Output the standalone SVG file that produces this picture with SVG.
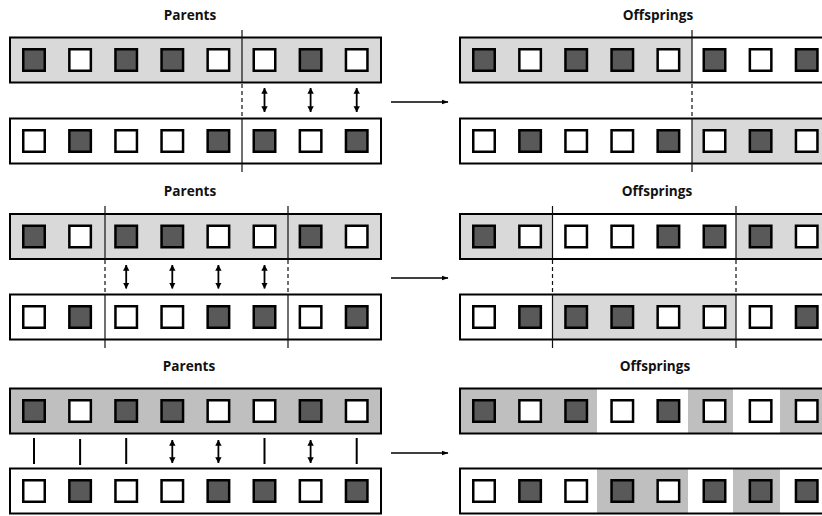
<svg xmlns="http://www.w3.org/2000/svg" xmlns:xlink="http://www.w3.org/1999/xlink" width="822" height="516" viewBox="0 0 822 516">
<style>
.bg{fill:#fff}
.g1{fill:#d9d9d9}
.g3{fill:#bfbfbf}
.ol{fill:none;stroke:#000;stroke-width:2}
.d{fill:#595959;stroke:#000;stroke-width:2.5}
.w{fill:#fff;stroke:#000;stroke-width:2.5}
.cut{stroke:#111;stroke-width:1.2;fill:none}
.dash{stroke:#111;stroke-width:1.2;stroke-dasharray:4 3;fill:none}
.sw{stroke:#000;stroke-width:1.8;fill:none;marker-start:url(#ah);marker-end:url(#ah)}
.keep{stroke:#000;stroke-width:2;fill:none}
.main{stroke:#000;stroke-width:1.6;fill:none;marker-end:url(#am)}
.t{font-family:"Open Sans","Liberation Sans",sans-serif;font-weight:bold;font-size:13.6px;fill:#111;text-anchor:middle}
</style>
<defs>
<rect id="D" width="21.5" height="21.5" class="d"/>
<rect id="W" width="21.5" height="21.5" class="w"/>
<marker id="ah" viewBox="0 0 6 7" refX="5.8" refY="3.5" markerWidth="6" markerHeight="7" markerUnits="userSpaceOnUse" orient="auto-start-reverse"><path d="M0,0.3 L6,3.5 L0,6.7 z" fill="#000"/></marker>
<marker id="am" viewBox="0 0 7 6" refX="6.5" refY="3" markerWidth="7" markerHeight="6" markerUnits="userSpaceOnUse" orient="auto"><path d="M0,0.5 L7,3 L0,5.5 z" fill="#000"/></marker>
</defs>

<!-- titles -->
<text class="t" x="190" y="20">Parents</text>
<text class="t" x="658" y="20">Offsprings</text>
<text class="t" x="190" y="196">Parents</text>
<text class="t" x="657" y="196">Offsprings</text>
<text class="t" x="189" y="371">Parents</text>
<text class="t" x="655" y="371">Offsprings</text>

<!-- ROW 1 -->
<g id="r1-parent1">
<rect x="10" y="37.5" width="371" height="45" class="g1"/>
<use href="#D" x="23.25" y="49.25"/><use href="#W" x="69.35" y="49.25"/><use href="#D" x="115.45" y="49.25"/><use href="#D" x="161.55" y="49.25"/><use href="#W" x="207.65" y="49.25"/><use href="#W" x="253.75" y="49.25"/><use href="#D" x="299.85" y="49.25"/><use href="#W" x="345.95" y="49.25"/>
<rect x="10" y="37.5" width="371" height="45" class="ol"/>
</g>
<g id="r1-parent2">
<rect x="10" y="118.5" width="371" height="45" class="bg"/>
<use href="#W" x="23.25" y="130.25"/><use href="#D" x="69.35" y="130.25"/><use href="#W" x="115.45" y="130.25"/><use href="#W" x="161.55" y="130.25"/><use href="#D" x="207.65" y="130.25"/><use href="#D" x="253.75" y="130.25"/><use href="#W" x="299.85" y="130.25"/><use href="#D" x="345.95" y="130.25"/>
<rect x="10" y="118.5" width="371" height="45" class="ol"/>
</g>
<g id="r1-offspring1">
<rect x="460" y="37.5" width="371" height="45" class="bg"/>
<rect x="460" y="37.5" width="232" height="45" class="g1"/>
<use href="#D" x="473.25" y="49.25"/><use href="#W" x="519.35" y="49.25"/><use href="#D" x="565.45" y="49.25"/><use href="#D" x="611.55" y="49.25"/><use href="#W" x="657.65" y="49.25"/><use href="#D" x="703.75" y="49.25"/><use href="#W" x="749.85" y="49.25"/><use href="#D" x="795.95" y="49.25"/>
<rect x="460" y="37.5" width="371" height="45" class="ol"/>
</g>
<g id="r1-offspring2">
<rect x="460" y="118.5" width="371" height="45" class="bg"/>
<rect x="692" y="118.5" width="139" height="45" class="g1"/>
<use href="#W" x="473.25" y="130.25"/><use href="#D" x="519.35" y="130.25"/><use href="#W" x="565.45" y="130.25"/><use href="#W" x="611.55" y="130.25"/><use href="#D" x="657.65" y="130.25"/><use href="#W" x="703.75" y="130.25"/><use href="#D" x="749.85" y="130.25"/><use href="#W" x="795.95" y="130.25"/>
<rect x="460" y="118.5" width="371" height="45" class="ol"/>
</g>

<!-- ROW 2 -->
<g id="r2-parent1">
<rect x="10" y="214" width="371" height="45" class="g1"/>
<use href="#D" x="23.25" y="225.75"/><use href="#W" x="69.35" y="225.75"/><use href="#D" x="115.45" y="225.75"/><use href="#D" x="161.55" y="225.75"/><use href="#W" x="207.65" y="225.75"/><use href="#W" x="253.75" y="225.75"/><use href="#D" x="299.85" y="225.75"/><use href="#W" x="345.95" y="225.75"/>
<rect x="10" y="214" width="371" height="45" class="ol"/>
</g>
<g id="r2-parent2">
<rect x="10" y="294.5" width="371" height="45" class="bg"/>
<use href="#W" x="23.25" y="306.25"/><use href="#D" x="69.35" y="306.25"/><use href="#W" x="115.45" y="306.25"/><use href="#W" x="161.55" y="306.25"/><use href="#D" x="207.65" y="306.25"/><use href="#D" x="253.75" y="306.25"/><use href="#W" x="299.85" y="306.25"/><use href="#D" x="345.95" y="306.25"/>
<rect x="10" y="294.5" width="371" height="45" class="ol"/>
</g>
<g id="r2-offspring1">
<rect x="460" y="214" width="371" height="45" class="bg"/>
<rect x="460" y="214" width="92.5" height="45" class="g1"/>
<rect x="736" y="214" width="95" height="45" class="g1"/>
<use href="#D" x="473.25" y="225.75"/><use href="#W" x="519.35" y="225.75"/><use href="#W" x="565.45" y="225.75"/><use href="#W" x="611.55" y="225.75"/><use href="#D" x="657.65" y="225.75"/><use href="#D" x="703.75" y="225.75"/><use href="#D" x="749.85" y="225.75"/><use href="#W" x="795.95" y="225.75"/>
<rect x="460" y="214" width="371" height="45" class="ol"/>
</g>
<g id="r2-offspring2">
<rect x="460" y="294.5" width="371" height="45" class="bg"/>
<rect x="552.5" y="294.5" width="183.5" height="45" class="g1"/>
<use href="#W" x="473.25" y="306.25"/><use href="#D" x="519.35" y="306.25"/><use href="#D" x="565.45" y="306.25"/><use href="#D" x="611.55" y="306.25"/><use href="#W" x="657.65" y="306.25"/><use href="#W" x="703.75" y="306.25"/><use href="#W" x="749.85" y="306.25"/><use href="#D" x="795.95" y="306.25"/>
<rect x="460" y="294.5" width="371" height="45" class="ol"/>
</g>

<!-- ROW 3 -->
<g id="r3-parent1">
<rect x="10" y="388.5" width="371" height="45" class="g3"/>
<use href="#D" x="23.25" y="400.25"/><use href="#W" x="69.35" y="400.25"/><use href="#D" x="115.45" y="400.25"/><use href="#D" x="161.55" y="400.25"/><use href="#W" x="207.65" y="400.25"/><use href="#W" x="253.75" y="400.25"/><use href="#D" x="299.85" y="400.25"/><use href="#W" x="345.95" y="400.25"/>
<rect x="10" y="388.5" width="371" height="45" class="ol"/>
</g>
<g id="r3-parent2">
<rect x="10" y="468.5" width="371" height="45" class="bg"/>
<use href="#W" x="23.25" y="480.25"/><use href="#D" x="69.35" y="480.25"/><use href="#W" x="115.45" y="480.25"/><use href="#W" x="161.55" y="480.25"/><use href="#D" x="207.65" y="480.25"/><use href="#D" x="253.75" y="480.25"/><use href="#W" x="299.85" y="480.25"/><use href="#D" x="345.95" y="480.25"/>
<rect x="10" y="468.5" width="371" height="45" class="ol"/>
</g>
<g id="r3-offspring1">
<rect x="460" y="388.5" width="371" height="45" class="bg"/>
<rect x="460" y="388.5" width="137" height="45" class="g3"/>
<rect x="688" y="388.5" width="45" height="45" class="g3"/>
<rect x="780" y="388.5" width="51" height="45" class="g3"/>
<use href="#D" x="473.25" y="400.25"/><use href="#W" x="519.35" y="400.25"/><use href="#D" x="565.45" y="400.25"/><use href="#W" x="611.55" y="400.25"/><use href="#D" x="657.65" y="400.25"/><use href="#W" x="703.75" y="400.25"/><use href="#W" x="749.85" y="400.25"/><use href="#W" x="795.95" y="400.25"/>
<rect x="460" y="388.5" width="371" height="45" class="ol"/>
</g>
<g id="r3-offspring2">
<rect x="460" y="468.5" width="371" height="45" class="bg"/>
<rect x="597" y="468.5" width="91" height="45" class="g3"/>
<rect x="733" y="468.5" width="47" height="45" class="g3"/>
<use href="#W" x="473.25" y="480.25"/><use href="#D" x="519.35" y="480.25"/><use href="#W" x="565.45" y="480.25"/><use href="#D" x="611.55" y="480.25"/><use href="#W" x="657.65" y="480.25"/><use href="#D" x="703.75" y="480.25"/><use href="#D" x="749.85" y="480.25"/><use href="#D" x="795.95" y="480.25"/>
<rect x="460" y="468.5" width="371" height="45" class="ol"/>
</g>

<!-- connectors -->
<g id="connectors">
<!-- row 1 crossover point -->
<path class="cut" d="M242,30 V83 M242,118 V172 M692,30 V83 M692,118 V172"/>
<path class="dash" d="M242,84 V118 M692,84 V118"/>
<line class="sw" x1="264.5" y1="88" x2="264.5" y2="112"/>
<line class="sw" x1="310.6" y1="88" x2="310.6" y2="112"/>
<line class="sw" x1="356.7" y1="88" x2="356.7" y2="112"/>
<line class="main" x1="391" y1="102" x2="448" y2="102"/>
<!-- row 2 crossover points -->
<path class="cut" d="M105,206 V259 M105,294 V348 M288,206 V259 M288,294 V348 M552.5,206 V259 M552.5,294 V348 M736,206 V259 M736,294 V348"/>
<path class="dash" d="M105,260 V294 M288,260 V294 M552.5,260 V294 M736,260 V294"/>
<line class="sw" x1="126.2" y1="265" x2="126.2" y2="288.5"/>
<line class="sw" x1="172.3" y1="265" x2="172.3" y2="288.5"/>
<line class="sw" x1="218.4" y1="265" x2="218.4" y2="288.5"/>
<line class="sw" x1="264.5" y1="265" x2="264.5" y2="288.5"/>
<line class="main" x1="391" y1="278" x2="448" y2="278"/>
<!-- row 3 uniform -->
<path class="keep" d="M34,438 V464 M80.1,439 V465 M126.2,438 V464 M264.5,438 V464 M356.7,438 V464"/>
<line class="sw" x1="172.3" y1="440" x2="172.3" y2="463"/>
<line class="sw" x1="218.4" y1="440" x2="218.4" y2="463"/>
<line class="sw" x1="310.6" y1="440" x2="310.6" y2="463"/>
<line class="main" x1="391" y1="453" x2="448" y2="453"/>
</g>
</svg>
